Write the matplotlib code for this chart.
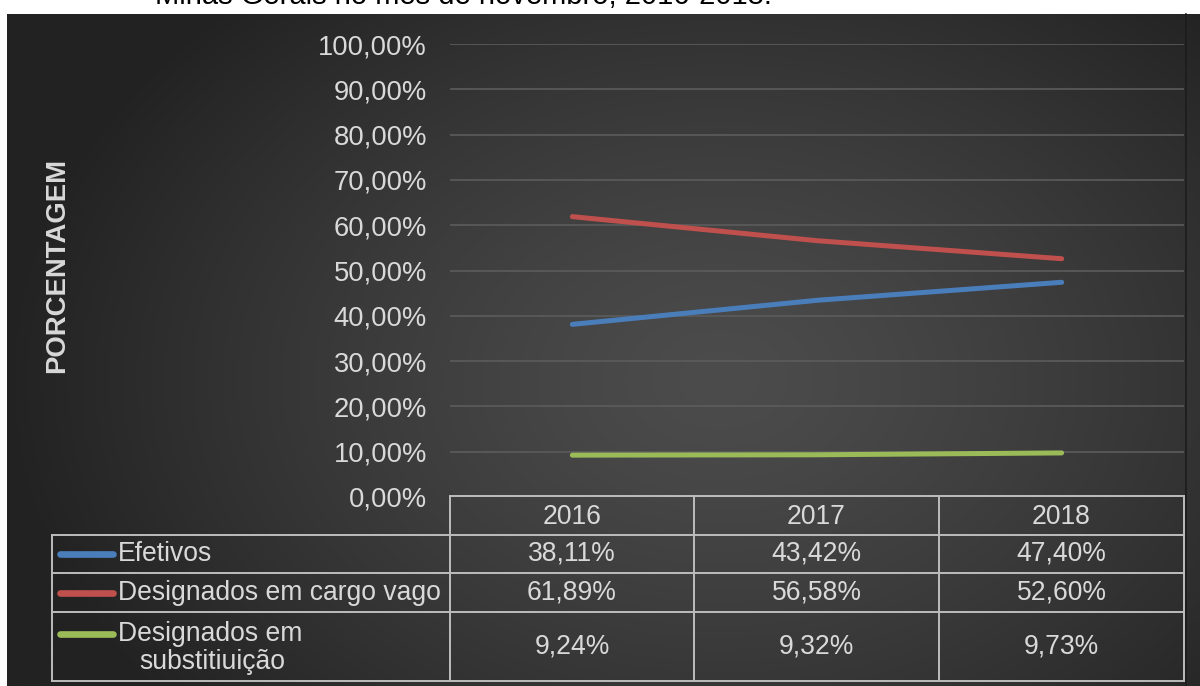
import numpy as np
import matplotlib
matplotlib.use("Agg")
import matplotlib.pyplot as plt

plt.rcParams['font.family'] = ['Liberation Sans', 'DejaVu Sans']

# Data
years = ["2016", "2017", "2018"]
series_names = ["Efetivos", "Designados em cargo vago", "Designados em\nsubstitiuição"]
efetivos = [38.11, 43.42, 47.40]
cargo_vago = [61.89, 56.58, 52.60]
substituicao = [9.24, 9.32, 9.73]
series_values = [efetivos, cargo_vago, substituicao]
series_colors = ["#4a7ebb", "#c0504d", "#9bbb59"]
yticks = [0, 10, 20, 30, 40, 50, 60, 70, 80, 90, 100]
title_text = "Minas Gerais no mês de novembro, 2016-2018."

W, H = 1200, 686
fig = plt.figure(figsize=(W / 100, H / 100), dpi=100)
fig.patch.set_facecolor("white")

TXT = "#d9d9d9"
FS = 19.1


def fx(px):
    return px / W


def fy(py):
    return 1 - py / H


# Dark radial-gradient background panel
bg_left, bg_top, bg_right, bg_bot = 7, 14, 1200, 686
bg = fig.add_axes([fx(bg_left), fy(bg_bot), fx(bg_right - bg_left), (bg_bot - bg_top) / H])
bg.set_axis_off()
gx = np.linspace(bg_left, bg_right, 400)
gy = np.linspace(bg_top, bg_bot, 240)
XX, YY = np.meshgrid(gx, gy)
cx, cy = 720, 380
r = np.sqrt(((XX - cx) / 720) ** 2 + ((YY - cy) / 520) ** 2)
shade = 0x4c - (0x4c - 0x22) * np.clip(r, 0, 1) ** 1.3
img = np.dstack([shade, shade, shade]) / 255.0
bg.imshow(img, aspect="auto", extent=[0, 1, 0, 1], interpolation="bilinear")
fig.add_artist(plt.Line2D([fx(1186), fx(1186)], [0, fy(14)], color="#1c1c1c", lw=1.2))

# Title fragment sitting above the chart panel
fig.text(fx(155), fy(3.5), title_text, ha="left", va="baseline",
         fontsize=21, color="black")

# Plot area
px_left, px_right = 450, 1184
py_top, py_bot = 44, 497
ax = fig.add_axes([fx(px_left), fy(py_bot), fx(px_right - px_left), (py_bot - py_top) / H])
ax.set_facecolor("none")
xs = np.arange(len(years))
ax.set_xlim(-0.5, len(years) - 0.5)
ax.set_ylim(0, 100)
ax.set_yticks(yticks)
ax.set_yticklabels([f"{v:.2f}%".replace(".", ",") for v in yticks],
                   color=TXT, fontsize=19.7)
ax.tick_params(axis="y", length=0, pad=16.5)
ax.set_xticks([])
ax.grid(axis="y", color="#5c5c5c", linewidth=1.2)
ax.set_axisbelow(True)
for s in ax.spines.values():
    s.set_visible(False)
for vals, col in zip(series_values, series_colors):
    ax.plot(xs, vals, color=col, linewidth=3.6, solid_capstyle="round", zorder=3)

fig.text(fx(57), fy(265), "PORCENTAGEM", rotation=90, ha="center", va="center",
         fontsize=19.8, fontweight="bold", color=TXT)

# Data table below the plot
ov = fig.add_axes([0, 0, 1, 1])
ov.set_xlim(0, W)
ov.set_ylim(H, 0)
ov.set_axis_off()
ov.patch.set_alpha(0)

LC = "#bdbdbd"
lw = 1.4
col_edges = [450, 694, 939, 1184]
row_edges = [496, 535, 573, 612, 681]
tab_left = 52

# horizontal lines
ov.plot([col_edges[0], col_edges[-1]], [row_edges[0]] * 2, color=LC, lw=lw)
for yv in row_edges[1:]:
    ov.plot([tab_left, col_edges[-1]], [yv, yv], color=LC, lw=lw)
# vertical lines
for xv in col_edges:
    ov.plot([xv, xv], [row_edges[0], row_edges[-1]], color=LC, lw=lw)
ov.plot([tab_left, tab_left], [row_edges[1], row_edges[-1]], color=LC, lw=lw)

centers = [(col_edges[i] + col_edges[i + 1]) / 2 for i in range(len(years))]
for c, yr in zip(centers, years):
    ov.text(c, (row_edges[0] + row_edges[1]) / 2 + 1, yr, ha="center", va="center",
            fontsize=FS, color=TXT)

for i, (name, vals, col) in enumerate(zip(series_names, series_values, series_colors)):
    ymid = (row_edges[i + 1] + row_edges[i + 2]) / 2
    if "\n" in name:
        ov.plot([60, 113], [row_edges[i + 1] + 22] * 2, color=col, lw=4.8,
                solid_capstyle="round")
        first, second = name.split("\n")
        ov.text(118, row_edges[i + 1] + 22, first, ha="left", va="center",
                fontsize=FS, color=TXT)
        ov.text(139, row_edges[i + 1] + 50, second, ha="left", va="center",
                fontsize=FS, color=TXT)
    else:
        ov.plot([60, 113], [ymid, ymid], color=col, lw=4.8, solid_capstyle="round")
        ov.text(118, ymid, name, ha="left", va="center", fontsize=FS, color=TXT)
    for c, v in zip(centers, vals):
        ov.text(c, ymid, f"{v:.2f}%".replace(".", ","), ha="center", va="center",
                fontsize=FS, color=TXT)

fig.savefig("out.png", dpi=100, facecolor=fig.get_facecolor())
